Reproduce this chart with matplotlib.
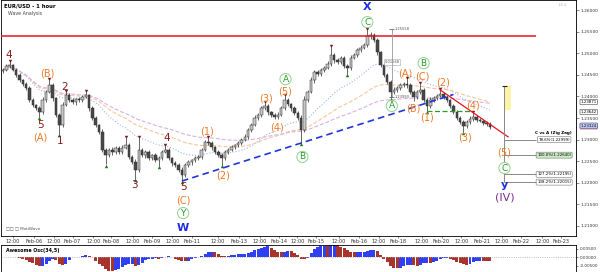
import numpy as np
import pandas as pd
import matplotlib
matplotlib.use('Agg')
import matplotlib.pyplot as plt
from matplotlib.ticker import MultipleLocator
from matplotlib.transforms import blended_transform_factory

# EUR/USD, 2-hour bars (Feb 05 - Feb 21)
first_open = 1.2458
close = [1.2461, 1.2470, 1.2472, 1.2462, 1.2450, 1.2438, 1.2428, 1.2420, 1.2392, 1.2380,
         1.2373, 1.2364, 1.2392, 1.2410, 1.2426, 1.2396, 1.2357, 1.2334, 1.2380, 1.2403,
         1.2392, 1.2387, 1.2394, 1.2392, 1.2399, 1.2403, 1.2373, 1.2350, 1.2334, 1.2318,
         1.2276, 1.2264, 1.2276, 1.2271, 1.2281, 1.2271, 1.2281, 1.2287, 1.2260, 1.2248,
         1.2230, 1.2276, 1.2264, 1.2271, 1.2257, 1.2264, 1.2253, 1.2257, 1.2271, 1.2276,
         1.2257, 1.2246, 1.2241, 1.2230, 1.2218, 1.2241, 1.2248, 1.2253, 1.2257, 1.2260,
         1.2276, 1.2294, 1.2292, 1.2283, 1.2271, 1.2264, 1.2257, 1.2271, 1.2276, 1.2283,
         1.2287, 1.2292, 1.2299, 1.2306, 1.2322, 1.2334, 1.2350, 1.2357, 1.2373, 1.2378,
         1.2364, 1.2357, 1.2352, 1.2357, 1.2373, 1.2392, 1.2382, 1.2373, 1.2362, 1.2350,
         1.2322, 1.2392, 1.2410, 1.2438, 1.2456, 1.2452, 1.2461, 1.2466, 1.2475, 1.2496,
         1.2484, 1.2480, 1.2489, 1.2470, 1.2466, 1.2489, 1.2496, 1.2507, 1.2512, 1.2519,
         1.2540, 1.2542, 1.2531, 1.2503, 1.2473, 1.2450, 1.2433, 1.2410, 1.2415, 1.2419,
         1.2426, 1.2428, 1.2426, 1.2410, 1.2399, 1.2410, 1.2415, 1.2392, 1.2378, 1.2392,
         1.2396, 1.2401, 1.2406, 1.2399, 1.2392, 1.2378, 1.2364, 1.2350, 1.2341, 1.2332,
         1.2341, 1.2348, 1.2352, 1.2345, 1.2343, 1.2338, 1.2336, 1.2329]
# wick lengths in pips beyond the body
wick_up = [4, 5, 8, 3, 4, 5, 3, 6, 4, 5,
           3, 4, 6, 5, 12, 4, 3, 5, 6, 7,
           4, 5, 3, 4, 5, 7, 3, 4, 5, 3,
           6, 4, 5, 6, 4, 5, 6, 17, 4, 5,
           6, 28, 5, 4, 6, 3, 5, 4, 6, 9,
           4, 3, 5, 4, 6, 5, 4, 3, 5, 4,
           5, 6, 10, 4, 3, 5, 4, 6, 5, 4,
           3, 5, 4, 6, 5, 4, 6, 5, 4, 7,
           5, 3, 4, 6, 5, 9, 4, 3, 5, 4,
           6, 8, 5, 7, 4, 6, 5, 4, 6, 18,
           5, 6, 4, 5, 4, 6, 5, 4, 6, 5,
           14, 6, 4, 5, 3, 4, 5, 4, 6, 5,
           4, 6, 12, 5, 4, 5, 14, 4, 5, 6,
           4, 5, 9, 4, 5, 3, 4, 5, 4, 5,
           4, 6, 10, 4, 5, 3, 4, 5]
wick_dn = [4, 3, 5, 4, 6, 5, 4, 5, 6, 4,
           5, 12, 4, 5, 3, 6, 5, 21, 4, 3,
           5, 4, 6, 4, 5, 3, 6, 5, 4, 6,
           5, 21, 4, 6, 5, 4, 5, 3, 6, 5,
           21, 4, 5, 6, 4, 5, 6, 14, 4, 3,
           5, 6, 4, 5, 14, 4, 5, 6, 4, 5,
           4, 3, 5, 6, 4, 5, 16, 4, 5, 3,
           5, 4, 5, 3, 4, 5, 3, 4, 5, 4,
           6, 5, 4, 5, 3, 4, 5, 6, 4, 5,
           30, 4, 5, 3, 6, 5, 4, 5, 3, 4,
           6, 5, 4, 5, 14, 4, 3, 5, 4, 3,
           4, 6, 5, 6, 5, 6, 4, 14, 5, 4,
           5, 4, 6, 5, 10, 4, 5, 6, 12, 4,
           5, 4, 3, 5, 4, 6, 5, 4, 5, 14,
           4, 5, 4, 5, 3, 4, 5, 4]

peak_idx = [2, 14, 19, 25, 37, 41, 49, 62, 79, 85, 99, 110, 122, 126, 132, 142]
trough_idx = [11, 17, 31, 40, 47, 54, 66, 90, 104, 117, 128, 139]

tick_pos = [3.0, 9.3, 15.3, 21.0, 27.3, 32.7, 39.3, 45.0, 51.1, 57.1, 64.9, 71.2, 77.5, 83.2,
            88.9, 94.6, 101.5, 107.5, 113.5, 119.2, 126.4, 132.4, 138.4, 144.7, 150.7, 156.4,
            162.8, 168.5]
tick_lab = ['12:00', 'Feb-06', '12:00', 'Feb-07', '12:00', 'Feb-08', '12:00', 'Feb-09',
            '12:00', 'Feb-11', '12:00', 'Feb-13', '12:00', 'Feb-14', '12:00', 'Feb-15',
            '12:00', 'Feb-16', '12:00', 'Feb-18', '12:00', 'Feb-20', '12:00', 'Feb-21',
            '12:00', 'Feb-22', '12:00', 'Feb-23']

resistance = 1.2540
fib_pct = ['78.6%', '100.0%', '127.2%', '138.2%']
fib_price = [1.22999, 1.22640, 1.22195, 1.22015]
axis_boxes = [('1.23871', 1.23871), ('1.23642', 1.23642)]
last_price = 1.23324

c = np.array(close)
o = np.r_[first_open, c[:-1]]
hi = np.maximum(o, c) + np.array(wick_up) / 10000
lo = np.minimum(o, c) - np.array(wick_dn) / 10000
idx = np.arange(len(c))

fig = plt.figure(figsize=(6, 2.72), dpi=100)
ax = fig.add_axes([1/600, 36/272, 575/600, 236/272])
ao_ax = fig.add_axes([1/600, 0, 575/600, 27/272])

# moving averages
s = pd.Series(c)
ax.plot(idx, s.ewm(span=24).mean(), ls=':', color='#9db5ee', lw=0.8, zorder=1)
ax.plot(idx, s.ewm(span=50).mean(), ls='--', color='#f6c89c', lw=0.8, zorder=1)
ax.plot(idx, s.ewm(span=100).mean(), ls='--', color='#d8b2e4', lw=0.8, zorder=1)

# candles
up = c >= o
ax.vlines(idx, lo, hi, color='#2a2a2a', lw=0.5, zorder=2)
ax.bar(idx[up], (c - o)[up], bottom=o[up], width=0.75, color='#c8c8c8',
       edgecolor='#2a2a2a', lw=0.35, zorder=3)
ax.bar(idx[~up], (o - c)[~up], bottom=c[~up], width=0.75, color='#4a4a4a',
       edgecolor='#2a2a2a', lw=0.35, zorder=3)
ax.scatter(peak_idx, hi[peak_idx] + 0.0003, marker='v', s=6, color='#7a1f1f', zorder=4, lw=0)
ax.scatter(trough_idx, lo[trough_idx] - 0.0003, marker='^', s=6, color='#1d7a1d', zorder=4, lw=0)

# lines
ax.hlines(resistance, -0.6, 161, color='#e8141c', lw=1.1, zorder=4)
slope = (lo[90] - lo[54]) / (90 - 54)
tx = np.array([54, 136])
ax.plot(tx, lo[54] + slope * (tx - 54), ls=(0, (4, 2.5)), color='#1f35e0', lw=1.2, zorder=4)
ax.hlines(lo[128], 128, 141, color='#2e9a2e', ls=(0, (4, 2)), lw=0.9, zorder=4)
slope2 = (hi[142] - hi[132]) / 10
tx2 = np.array([132, 152.5])
ax.plot(tx2, hi[132] + slope2 * (tx2 - 132), color='#e8141c', lw=0.9, zorder=4)

# zig-zag projection
px = 151.4
ax.vlines(px, fib_price[-1], 1.2424, color='#888888', lw=0.7, zorder=4)
ax.hlines(1.2424, px - 0.8, px + 0.8, color='#222222', lw=0.8, zorder=5)
ax.add_patch(plt.Rectangle((px + 0.3, 1.2368), 1.6, 0.0056, fc='#fbf3a6', ec='none', zorder=3))
ax.hlines(fib_price, px, 161, color='#888888', lw=0.7, zorder=4)
ax.text(166.2, 1.2316, 'C vs A (Zig Zag)', fontsize=3, weight='bold', ha='center', va='center')
for lab, p in zip(fib_pct, fib_price):
    fc = '#c9ecc0' if lab == '100.0%' else 'white'
    ax.text(166.4, p, f'{lab}(1.{str(round(p, 5))[2:]:0<5})', fontsize=2.8, ha='center',
            va='center', bbox=dict(boxstyle='round,pad=0.25', fc=fc, ec='#777777', lw=0.4))

# measure tool
ax.vlines(117.4, 1.2399, 1.2556, color='#999999', lw=0.6, zorder=4)
ax.hlines([1.2399, 1.2556], 116.6, 118.2, color='#666666', lw=0.6, zorder=4)
ax.text(118.3, 1.2557, '1.25558', fontsize=2.6, color='#555555', va='center')
ax.text(117.4, 1.2480, '0.01568', fontsize=2.6, color='#555555', ha='center', va='center',
        bbox=dict(boxstyle='square,pad=0.2', fc='white', ec='#aaaaaa', lw=0.4))
ax.text(118.3, 1.2398, '1.23990', fontsize=2.6, color='#555555', va='center')


def wave(txt, i, p, color, size=7, circle=False, weight='normal'):
    bb = None
    if circle:
        bb = dict(boxstyle='circle,pad=0.12', fc='white', ec='#90d290', lw=0.7)
    ax.text(i, p, txt, color=color, fontsize=size, ha='center', va='center',
            weight=weight, bbox=bb, zorder=6)


red, org, grn, blu = '#8b1c1c', '#f07a25', '#2a9a2a', '#1f2fe0'
for t, i, p in [('4', 1.8, 1.2497), ('5', 11.4, 1.2334), ('2', 18.6, 1.2422),
                ('1', 17.1, 1.2297), ('3', 39.6, 1.2195), ('4', 49.5, 1.2304),
                ('5', 54.4, 1.2190)]:
    wave(t, i, p, red, 7.5)
for t, i, p in [('(B)', 13.5, 1.2454), ('(A)', 11.4, 1.2304), ('(C)', 54.4, 1.2160),
                ('(1)', 61.6, 1.2318), ('(2)', 66.4, 1.2218), ('(3)', 79.3, 1.2394),
                ('(4)', 82.6, 1.2329), ('(5)', 85.3, 1.2411), ('(A)', 121.3, 1.2454),
                ('(B)', 124.0, 1.2373), ('(C)', 126.7, 1.2445), ('(1)', 128.0, 1.2352),
                ('(2)', 133.0, 1.2433), ('(3)', 139.6, 1.2304), ('(4)', 142.0, 1.2378),
                ('(5)', 151.4, 1.2269)]:
    wave(t, i, p, org, 7)
for t, i, p in [('Y', 54.4, 1.2130), ('A', 85.3, 1.2440), ('B', 90.4, 1.2260),
                ('C', 110.0, 1.2572), ('A', 117.4, 1.2378), ('B', 127.0, 1.2477),
                ('C', 151.4, 1.2234)]:
    wave(t, i, p, grn, 6.5, circle=True)
wave('W', 54.4, 1.2095, blu, 8, weight='bold')
wave('X', 110.0, 1.2607, blu, 8, weight='bold')
wave('y', 151.4, 1.2195, blu, 8, weight='bold')
wave('(IV)', 151.4, 1.2167, '#7b2d8e', 8)

ax.set_xlim(-0.6, 173)
ax.set_ylim(1.20768, 1.26232)
ax.yaxis.tick_right()
ax.set_yticks(np.arange(1.21, 1.26001, 0.005))
ax.set_yticklabels([f'{v:.5f}' for v in np.arange(1.21, 1.26001, 0.005)])
ax.yaxis.set_minor_locator(MultipleLocator(0.0005))
ax.tick_params(axis='y', labelsize=3.2, length=2, width=0.4, pad=1, colors='#333333')
ax.tick_params(axis='y', which='minor', length=1, width=0.3)
ax.set_xticks(tick_pos)
ax.set_xticklabels(tick_lab)
ax.tick_params(axis='x', labelsize=3.6, length=1.5, width=0.4, pad=0.8, colors='#333333')
for sp in ax.spines.values():
    sp.set_linewidth(0.6)

trans = blended_transform_factory(ax.transAxes, ax.transData)
for lab, p in axis_boxes:
    ax.text(1.008, p, lab, transform=trans, fontsize=2.9, va='center', clip_on=False,
            bbox=dict(boxstyle='round,pad=0.15', fc='white', ec='#444444', lw=0.4), zorder=7)
ax.text(1.008, last_price - 0.0002, '1.23300', transform=trans, fontsize=2.9, va='center',
        color='#a04040', clip_on=False,
        bbox=dict(boxstyle='round,pad=0.15', fc='#f2caca', ec='#c06060', lw=0.4), zorder=7)
ax.text(1.008, last_price, '1.23324', transform=trans, fontsize=2.9, va='center',
        clip_on=False, bbox=dict(boxstyle='round,pad=0.15', fc='#c5cdf3', ec='#3545a5', lw=0.4),
        zorder=8)

ax.text(0.005, 0.985, 'EUR/USD - 1 hour', transform=ax.transAxes, fontsize=3.8,
        weight='bold', va='top')
ax.text(0.012, 0.952, 'Wave Analysis', transform=ax.transAxes, fontsize=3.4,
        color='#444444', va='top')
ax.text(0.008, 0.025, '□□ □ MotiWave', transform=ax.transAxes, fontsize=3,
        color='#555555', va='bottom')
ax.text(0.985, 0.985, '◦◦◦', transform=ax.transAxes, fontsize=4, color='#999999',
        va='top', ha='right')

# awesome oscillator
med = pd.Series((hi + lo) / 2)
ao = med.rolling(3, min_periods=1).mean() - med.rolling(17, min_periods=1).mean()
rising = ao.diff().fillna(0) >= 0
ao_ax.bar(idx, ao, width=0.9, color=np.where(rising, '#3040f0', '#a8352d'), lw=0)
ao_ax.axhline(0, color='#aaaaaa', ls=':', lw=0.6)
ao_ax.set_xlim(-0.6, 173)
ao_ax.set_ylim(-0.0088, 0.0071)
ao_ax.set_xticks([])
ao_ax.yaxis.tick_right()
ao_ax.set_yticks([-0.005, 0, 0.005])
ao_ax.set_yticklabels(['-0.00500', '0.00000', '0.00500'])
ao_ax.tick_params(axis='y', labelsize=3.0, length=1.5, width=0.4, pad=1, colors='#333333')
for sp in ao_ax.spines.values():
    sp.set_linewidth(0.6)
ao_ax.text(0.008, 0.9, 'Awesome Osc(34,5)', transform=ao_ax.transAxes, fontsize=3.4,
           weight='bold', va='top')

fig.savefig('out.png', dpi=100)
